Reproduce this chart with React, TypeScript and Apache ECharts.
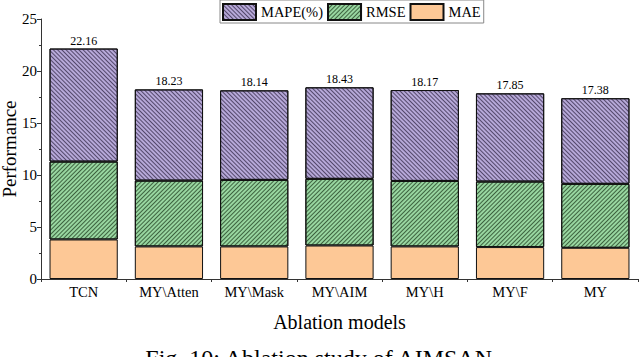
import React, { useEffect, useRef } from "react";
import * as echarts from "echarts";

const categories = ["TCN", "MY\\Atten", "MY\\Mask", "MY\\AIM", "MY\\H", "MY\\F", "MY"];
const maeValues = [3.8, 3.13, 3.13, 3.22, 3.13, 3.07, 3.0];
const rmseValues = [7.49, 6.33, 6.4, 6.41, 6.3, 6.3, 6.15];
const mapeValues = [10.87, 8.77, 8.61, 8.8, 8.74, 8.48, 8.23];
const totals = ["22.16", "18.23", "18.14", "18.43", "18.17", "17.85", "17.38"];
const yTicks = [0, 5, 10, 15, 20, 25];

const FONT = "Liberation Serif";

export default function App() {
  const ref = useRef<HTMLDivElement>(null);
  useEffect(() => {
    if (!ref.current) return;
    const chart = echarts.init(ref.current, undefined, { renderer: "svg" });
    const border = { borderColor: "#111", borderWidth: 1 };
    chart.setOption({
      animation: false,
      backgroundColor: "#fff",
      textStyle: { fontFamily: FONT, color: "#000" },
      legend: {
        data: ["MAPE(%)", "RMSE", "MAE"],
        left: 220,
        top: 0,
        borderColor: "#888",
        borderWidth: 1,
        padding: [3, 3, 2, 2],
        itemGap: 4,
        itemWidth: 33,
        itemHeight: 16,
        icon: "rect",
        textStyle: { fontFamily: FONT, fontSize: 14.5, color: "#000" },
      },
      grid: { left: 41, right: 2, top: 19, bottom: 78, containLabel: false, outerBoundsMode: "none" },
      xAxis: {
        type: "category",
        data: categories,
        name: "Ablation models",
        nameLocation: "middle",
        nameGap: 33,
        nameMoveOverlap: false,
        nameTextStyle: { fontFamily: FONT, fontSize: 20, color: "#000" },
        axisLine: { lineStyle: { color: "#333", width: 1 } },
        axisTick: { show: true, length: 3, lineStyle: { color: "#333" } },
        axisLabel: { fontFamily: FONT, fontSize: 14.5, color: "#000", margin: 5 },
      },
      yAxis: {
        type: "value",
        min: yTicks[0],
        max: yTicks[yTicks.length - 1],
        interval: 5,
        name: "Performance",
        nameLocation: "middle",
        nameGap: 22,
        nameMoveOverlap: false,
        nameTextStyle: { fontFamily: FONT, fontSize: 19, color: "#000" },
        axisLine: { show: true, lineStyle: { color: "#333", width: 1 } },
        axisTick: { show: true, length: 4, lineStyle: { color: "#333" } },
        minorTick: { show: true, splitNumber: 2, length: 2, lineStyle: { color: "#333" } },
        splitLine: { show: false },
        axisLabel: { fontFamily: FONT, fontSize: 15, color: "#000", margin: 4 },
      },
      series: [
        {
          name: "MAE",
          type: "bar",
          stack: "t",
          barWidth: "80%",
          data: maeValues,
          itemStyle: { color: "#fdc896", ...border },
        },
        {
          name: "RMSE",
          type: "bar",
          stack: "t",
          data: rmseValues,
          itemStyle: {
            color: "#98d6a0",
            ...border,
            decal: {
              symbol: "rect",
              dashArrayX: [1, 0],
              dashArrayY: [1, 2],
              rotation: -Math.PI / 4,
              color: "rgba(30,60,30,0.75)",
              symbolSize: 1,
            },
          },
        },
        {
          name: "MAPE(%)",
          type: "bar",
          stack: "t",
          data: mapeValues,
          itemStyle: {
            color: "#b6a8d8",
            ...border,
            decal: {
              symbol: "rect",
              dashArrayX: [1, 0],
              dashArrayY: [1, 2],
              rotation: Math.PI / 4,
              color: "rgba(50,40,70,0.75)",
              symbolSize: 1,
            },
          },
          label: {
            show: true,
            position: "top",
            distance: 2,
            fontFamily: FONT,
            fontSize: 12,
            color: "#000",
            formatter: (p: any) => totals[p.dataIndex],
          },
        },
      ],
      graphic: [
        {
          type: "text",
          left: "center",
          top: 346,
          style: { text: "Fig. 10: Ablation study of AIMSAN", font: `24px ${FONT}`, fill: "#000" },
        },
      ],
    });
    return () => chart.dispose();
  }, []);
  return <div ref={ref} style={{ width: 640, height: 357, position: "fixed", left: 0, top: 0 }} />;
}
